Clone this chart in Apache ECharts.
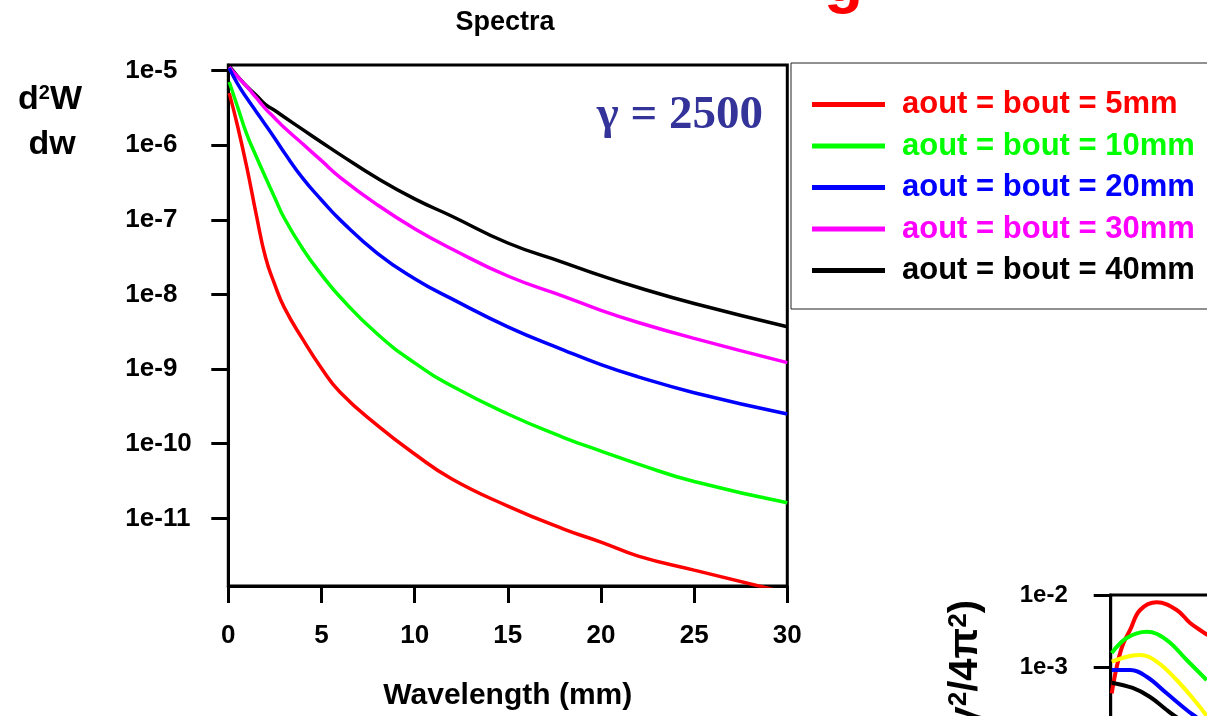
<!DOCTYPE html>
<html>
<head>
<meta charset="utf-8">
<script src="https://cdn.jsdelivr.net/npm/echarts@6/dist/echarts.min.js"></script>
<style>
  html, body { margin: 0; padding: 0; background: #fff; }
  #chart { width: 1207px; height: 716px; }
</style>
</head>
<body>
<div id="chart"></div>
<script>
// wavelength samples (mm)
const wavelength = [0.05, 0.5, 1, 1.5, 2, 2.5, 3, 4, 5, 6, 8, 10, 12, 15, 18, 20, 22, 25, 30]

// d2W/dw spectra, one per aperture
const spec5mm  = [5.0e-6, 1.8e-6, 4.97e-7, 1.18e-7, 3.13e-8, 1.35e-8, 6.73e-9, 2.5e-9, 1.03e-9, 4.9e-10, 1.76e-10, 7.28e-11, 3.37e-11, 1.46e-11, 7.18e-12, 4.81e-12, 3.12e-12, 2.02e-12, 1.0e-12]
const spec10mm = [7.06e-6, 3.26e-6, 1.39e-6, 7.08e-7, 3.7e-7, 1.97e-7, 1.06e-7, 4.08e-8, 1.85e-8, 9.25e-9, 2.95e-9, 1.21e-9, 5.93e-10, 2.5e-10, 1.21e-10, 7.98e-11, 5.34e-11, 3.11e-11, 1.62e-11]
const spec20mm = [1.08e-5, 6.67e-6, 4.26e-6, 2.82e-6, 1.87e-6, 1.23e-6, 8.0e-7, 3.6e-7, 1.85e-7, 1.0e-7, 3.56e-8, 1.63e-8, 8.73e-9, 3.69e-9, 1.8e-9, 1.15e-9, 7.88e-10, 4.83e-10, 2.5e-10]
const spec30mm = [1.12e-5, 8.28e-6, 6.1e-6, 4.34e-6, 3.08e-6, 2.31e-6, 1.73e-6, 1.04e-6, 6.22e-7, 3.72e-7, 1.59e-7, 7.62e-8, 4.08e-8, 1.77e-8, 9.46e-9, 6.14e-9, 4.22e-9, 2.58e-9, 1.22e-9]
const spec40mm = [1.15e-5, 8.41e-6, 6.12e-6, 4.68e-6, 3.51e-6, 2.92e-6, 2.39e-6, 1.62e-6, 1.1e-6, 7.5e-7, 3.61e-7, 1.91e-7, 1.12e-7, 4.9e-8, 2.68e-8, 1.79e-8, 1.24e-8, 7.57e-9, 3.7e-9]

const seriesNames = ['aout = bout = 5mm', 'aout = bout = 10mm', 'aout = bout = 20mm', 'aout = bout = 30mm', 'aout = bout = 40mm']
const seriesColors = ['#ff0000', '#00ff00', '#0000ff', '#ff00ff', '#000000']
const yTickExp = [-11, -10, -9, -8, -7, -6, -5]

// partially visible second plot (bottom right)
const insetRedX = [0.05, 0.3, 0.6, 0.97, 1.47, 2.3, 3.3, 3.97, 4.62, 4.85]
const insetRed = [4.3e-4, 1.0e-3, 2.02e-3, 3.27e-3, 6.19e-3, 7.92e-3, 6.19e-3, 4.08e-3, 3.06e-3, 2.78e-3]
const insetGreenX = [0.05, 0.8, 1.8, 2.8, 3.8, 4.8]
const insetGreen = [1.56e-3, 2.53e-3, 3.09e-3, 2.37e-3, 1.25e-3, 6.6e-4]
const insetYellowX = [0.05, 0.97, 1.47, 2.3, 3.3, 4.3, 4.8]
const insetYellow = [1.19e-3, 1.42e-3, 1.47e-3, 1.19e-3, 6.6e-4, 3.16e-4, 2.09e-4]
const insetBlueX = [0.05, 0.97, 1.8, 2.8, 3.8, 4.2, 4.8]
const insetBlue = [9.08e-4, 9.08e-4, 7.33e-4, 4.31e-4, 2.53e-4, 2.09e-4, 1.56e-4]
const insetBlackX = [0.05, 1.1, 1.95, 2.8, 3.2, 4.0]
const insetBlack = [6.05e-4, 5.11e-4, 3.86e-4, 2.53e-4, 2.09e-4, 1.47e-4]

const FONT = "'Liberation Sans', Arial, sans-serif"

const chart = echarts.init(document.getElementById('chart'), null, { renderer: 'canvas' })

function pairs(xs, ys) {
  return xs.map((x, i) => [x, Math.log10(ys[i])])
}

const mainData = [spec5mm, spec10mm, spec20mm, spec30mm, spec40mm]
const mainSeries = mainData.map((vals, i) => ({
  name: seriesNames[i],
  type: 'line',
  xAxisIndex: 0,
  yAxisIndex: 0,
  data: pairs(wavelength, vals),
  showSymbol: false,
  smooth: 0.5,
  lineStyle: { color: seriesColors[i], width: 3.5 },
  itemStyle: { color: seriesColors[i] },
  z: 5 - i
}))

const insetSets = [
  [insetRedX, insetRed, '#ff0000'],
  [insetGreenX, insetGreen, '#00ff00'],
  [insetYellowX, insetYellow, '#ffff00'],
  [insetBlueX, insetBlue, '#0000ff'],
  [insetBlackX, insetBlack, '#000000']
]
const insetSeries = insetSets.map(([xs, ys, c]) => ({
  type: 'line',
  xAxisIndex: 1,
  yAxisIndex: 1,
  data: pairs(xs, ys),
  showSymbol: false,
  smooth: 0.4,
  lineStyle: { color: c, width: 4 },
  itemStyle: { color: c }
}))

const option = {
  animation: false,
  backgroundColor: '#fff',
  textStyle: { fontFamily: FONT },
  grid: [
    { left: 228.3, right: 419.7, top: 65, bottom: 130, show: true, borderColor: '#000', borderWidth: 3, outerBoundsMode: 'none', containLabel: false },
    { left: 1110.7, top: 595, width: 200, height: 144, show: true, borderColor: '#000', borderWidth: 3, outerBoundsMode: 'none', containLabel: false }
  ],
  legend: {
    orient: 'vertical',
    left: 791,
    top: 63,
    padding: [26, 40, 23, 21],
    itemGap: 10.5,
    itemWidth: 73,
    itemHeight: 5,
    icon: 'rect',
    borderColor: '#222',
    borderWidth: 1,
    textStyle: { fontFamily: FONT, fontSize: 31, fontWeight: 'bold', padding: [0, 0, 0, 12] },
    data: seriesNames.map((n, i) => ({ name: n, textStyle: { color: seriesColors[i] } }))
  },
  xAxis: [
    {
      gridIndex: 0,
      type: 'value',
      min: 0,
      max: 30,
      interval: 5,
      name: 'Wavelength (mm)',
      nameLocation: 'middle',
      nameGap: 95,
      nameTextStyle: { fontFamily: FONT, fontSize: 30, fontWeight: 'bold', color: '#000' },
      axisLine: { lineStyle: { color: '#000', width: 3 } },
      axisTick: { length: 17, lineStyle: { color: '#000', width: 3 } },
      axisLabel: { fontFamily: FONT, fontSize: 26, fontWeight: 'bold', color: '#000', margin: 37 },
      splitLine: { show: false }
    },
    {
      gridIndex: 1,
      type: 'value',
      min: 0,
      max: 10,
      axisLine: { lineStyle: { color: '#000', width: 3 } },
      axisTick: { show: false },
      axisLabel: { show: false },
      splitLine: { show: false }
    }
  ],
  yAxis: [
    {
      gridIndex: 0,
      type: 'value',
      min: -11.907,
      max: -4.924,
      axisLine: { show: true, lineStyle: { color: '#000', width: 3 } },
      axisTick: { show: true, length: 17, lineStyle: { color: '#000', width: 3 }, customValues: yTickExp },
      axisLabel: {
        customValues: yTickExp,
        formatter: v => '1e' + Math.round(v),
        fontFamily: FONT, fontSize: 26, fontWeight: 'bold', color: '#000',
        align: 'left', margin: 103
      },
      splitLine: { show: false }
    },
    {
      gridIndex: 1,
      type: 'value',
      min: -4,
      max: -2,
      interval: 1,
      axisLine: { show: true, lineStyle: { color: '#000', width: 3 } },
      axisTick: { show: true, length: 17, lineStyle: { color: '#000', width: 3 } },
      axisLabel: {
        formatter: v => '1e' + Math.round(v),
        fontFamily: FONT, fontSize: 24, fontWeight: 'bold', color: '#000',
        align: 'left', margin: 91
      },
      splitLine: { show: false }
    }
  ],
  graphic: [
    {
      type: 'text', x: 505, y: 9,
      style: { text: 'Spectra', font: 'bold 27px ' + FONT, fill: '#000', textAlign: 'center', textVerticalAlign: 'top' }
    },
    {
      type: 'text', x: 824, y: 15,
      style: { text: 'g', font: 'bold 64px ' + FONT, fill: '#ff0000', textAlign: 'left', textVerticalAlign: 'bottom' }
    },
    {
      type: 'text', x: 763, y: 116,
      style: { text: 'γ = 2500', font: "bold 47px 'Liberation Serif', 'Times New Roman', serif", fill: '#333399', textAlign: 'right', textVerticalAlign: 'middle' }
    },
    {
      type: 'text', x: 50, y: 100,
      style: {
        text: '{b|d}{s|2}{b|W}',
        textAlign: 'center', textVerticalAlign: 'middle',
        rich: {
          b: { font: 'bold 34px ' + FONT, fill: '#000' },
          s: { font: 'bold 20px ' + FONT, fill: '#000', verticalAlign: 'top' }
        }
      }
    },
    {
      type: 'text', x: 52, y: 145,
      style: { text: 'dw', font: 'bold 34px ' + FONT, fill: '#000', textAlign: 'center', textVerticalAlign: 'middle' }
    },
    {
      type: 'text', x: 966, y: 600, rotation: Math.PI / 2,
      style: {
        text: '{b|(γ}{s|2}{b|/4π}{s|2}{b|)}',
        textAlign: 'right', textVerticalAlign: 'middle',
        rich: {
          b: { font: 'bold 40px ' + FONT, fill: '#000' },
          s: { font: 'bold 26px ' + FONT, fill: '#000', verticalAlign: 'top' }
        }
      }
    }
  ],
  series: [...mainSeries, ...insetSeries]
}

chart.setOption(option)
</script>
</body>
</html>
